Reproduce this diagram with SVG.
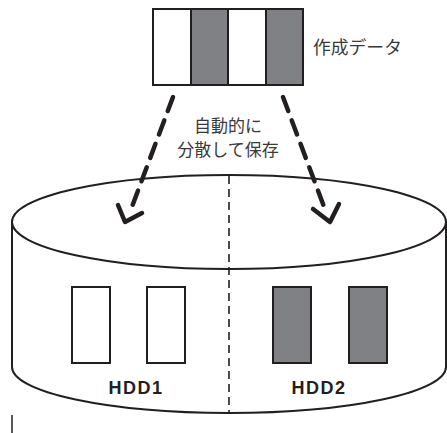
<svg xmlns="http://www.w3.org/2000/svg" width="447" height="433" viewBox="0 0 447 433">
<style>
.ln{fill:none;stroke:#231f20;stroke-width:2}
.cellw{fill:#fff;stroke:#231f20;stroke-width:2}
.cellg{fill:#808184;stroke:#231f20;stroke-width:2}
.arrow{fill:none;stroke:#231f20;stroke-width:4.5;stroke-linecap:round;stroke-linejoin:round}
.jp{font-family:"Noto Sans CJK JP","Noto Sans",sans-serif;fill:#3a3a3a;font-size:17px}
.hdd{font-family:"Liberation Sans",Arial,sans-serif;font-weight:bold;font-size:18px;letter-spacing:1.5px;fill:#231f20}
</style>
<rect width="447" height="433" fill="#fff"/>
<g id="cylinder">
<path class="ln" d="M12 222 L12 367 A217 46 0 0 0 446 367 L446 222"/>
<ellipse class="ln" cx="229" cy="222" rx="217" ry="47" fill="#fff"/>
<line x1="229" y1="176" x2="229" y2="412" stroke="#231f20" stroke-width="1.6" stroke-dasharray="8 5"/>
</g>
<g id="data">
<rect class="cellw" x="153" y="9" width="38" height="76"/>
<rect class="cellg" x="191" y="9" width="37" height="76"/>
<rect class="cellw" x="228" y="9" width="38" height="76"/>
<rect class="cellg" x="266" y="9" width="37" height="76"/>
<text class="jp" x="313" y="54" style="font-size:17.8px">作成データ</text>
</g>
<g id="hdd1">
<rect class="cellw" x="72" y="287" width="38" height="76"/>
<rect class="cellw" x="147" y="287" width="38" height="76"/>
<text class="hdd" x="136" y="394" text-anchor="middle">HDD1</text>
</g>
<g id="hdd2">
<rect class="cellg" x="273" y="287" width="38" height="76"/>
<rect class="cellg" x="349" y="287" width="38" height="76"/>
<text class="hdd" x="319" y="394" text-anchor="middle">HDD2</text>
</g>
<g id="label">
<text class="jp" x="228" y="132" text-anchor="middle">自動的に</text>
<text class="jp" x="228" y="156" text-anchor="middle">分散して保存</text>
</g>
<g id="connectors">
<path class="arrow" d="M173 97 L130 212" stroke-dasharray="15 10"/>
<path class="arrow" d="M118 205 L125 222 L142 213"/>
<path class="arrow" d="M283 97 L326 212" stroke-dasharray="15 10"/>
<path class="arrow" d="M313 209 L330 222 L339 204"/>
</g>
<line x1="12" y1="415" x2="12" y2="433" stroke="#231f20" stroke-width="1.5"/>
</svg>
